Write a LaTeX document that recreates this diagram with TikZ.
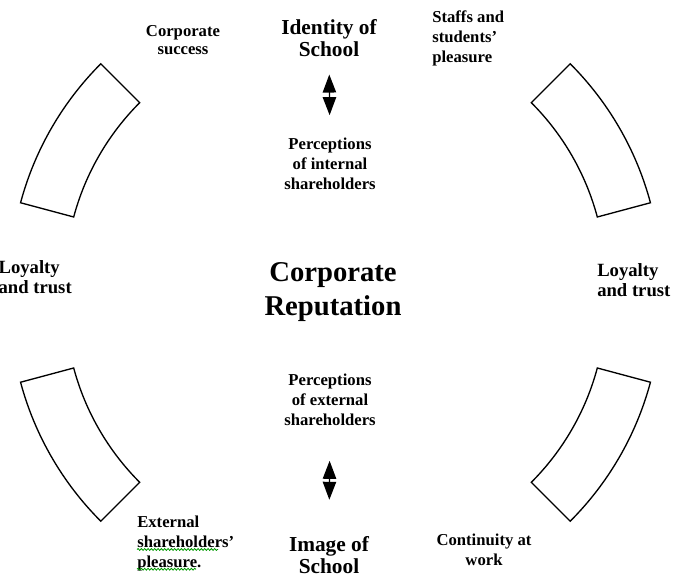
\documentclass[tikz,border=0pt]{standalone}
\usepackage{fontspec}
\setmainfont{Liberation Serif}
\usetikzlibrary{arrows.meta,decorations.pathmorphing}

\tikzset{
  lbl/.style={inner sep=0pt, align=center, font=\bfseries\fontsize{12.5}{15}\selectfont},
  big/.style={inner sep=0pt, align=center, font=\bfseries\fontsize{16}{17}\selectfont},
  title/.style={inner sep=0pt, align=center, font=\bfseries\fontsize{21.5}{26}\selectfont},
  side/.style={inner sep=0pt, align=left, font=\bfseries\fontsize{14}{15}\selectfont},
  blockarc/.style={draw, line width=1pt},
  dblarrow/.style={{Triangle[length=13.5pt,width=10pt]}-{Triangle[length=13.5pt,width=10pt]}, line width=1pt},
  squiggle/.style={green!60!black, line width=0.6pt, decorate,
    decoration={snake, amplitude=0.7pt, segment length=2.5pt}}
}

\begin{document}
\begin{tikzpicture}[x=0.75pt,y=0.75pt]
  \useasboundingbox (0,0) rectangle (682,577);
  \foreach \cx/\cy/\a in {320/294/135,351/294/15,320/275/195,351/275/315}
    {\pgfmathsetmacro\b{\a+30}
     \draw[blockarc] ([shift={(\cx,\cy)}]\a:310) arc[start angle=\a,end angle=\b,radius=310]
       -- ([shift={(\cx,\cy)}]\b:255) arc[start angle=\b,end angle=\a,radius=255] -- cycle;}

  \node[title] (reputation) at (333,285) {Corporate\\Reputation};
  \node[big] (identity) at (329,539) {Identity of\\School};
  \node[lbl] (percint) at (330,413) {Perceptions\\of internal\\shareholders};
  \node[lbl] (percext) at (330,177) {Perceptions\\of external\\shareholders};
  \node[big] (image) at (329,22) {Image of\\School};

  \node[lbl,font=\bfseries\fontsize{12.5}{13}\selectfont] (success) at (183,537) {Corporate\\success};
  \node[lbl,align=left,anchor=west] (staffs) at (432,539) {Staffs and\\students'\\pleasure};
  \node[side,anchor=east] (loyleft) at (72,300) {Loyalty\\and trust};
  \node[side,anchor=west] (loyright) at (597,297) {Loyalty\\and trust};
  \node[lbl,align=left,anchor=west] (extpl) at (137,34) {External\\shareholders'\\pleasure.};
  \node[lbl] (continuity) at (484,27) {Continuity at\\work};

  \draw[squiggle] ([yshift=16pt]extpl.south west) -- ++(81,0);
  \draw[squiggle] ([yshift=1.2pt]extpl.south west) -- ++(59,0);

  \draw[dblarrow,shorten <=13pt,shorten >=17pt] (identity) -- (percint);
  \draw[dblarrow,shorten <=26pt,shorten >=27pt] (percext) -- (image);
\end{tikzpicture}
\end{document}
